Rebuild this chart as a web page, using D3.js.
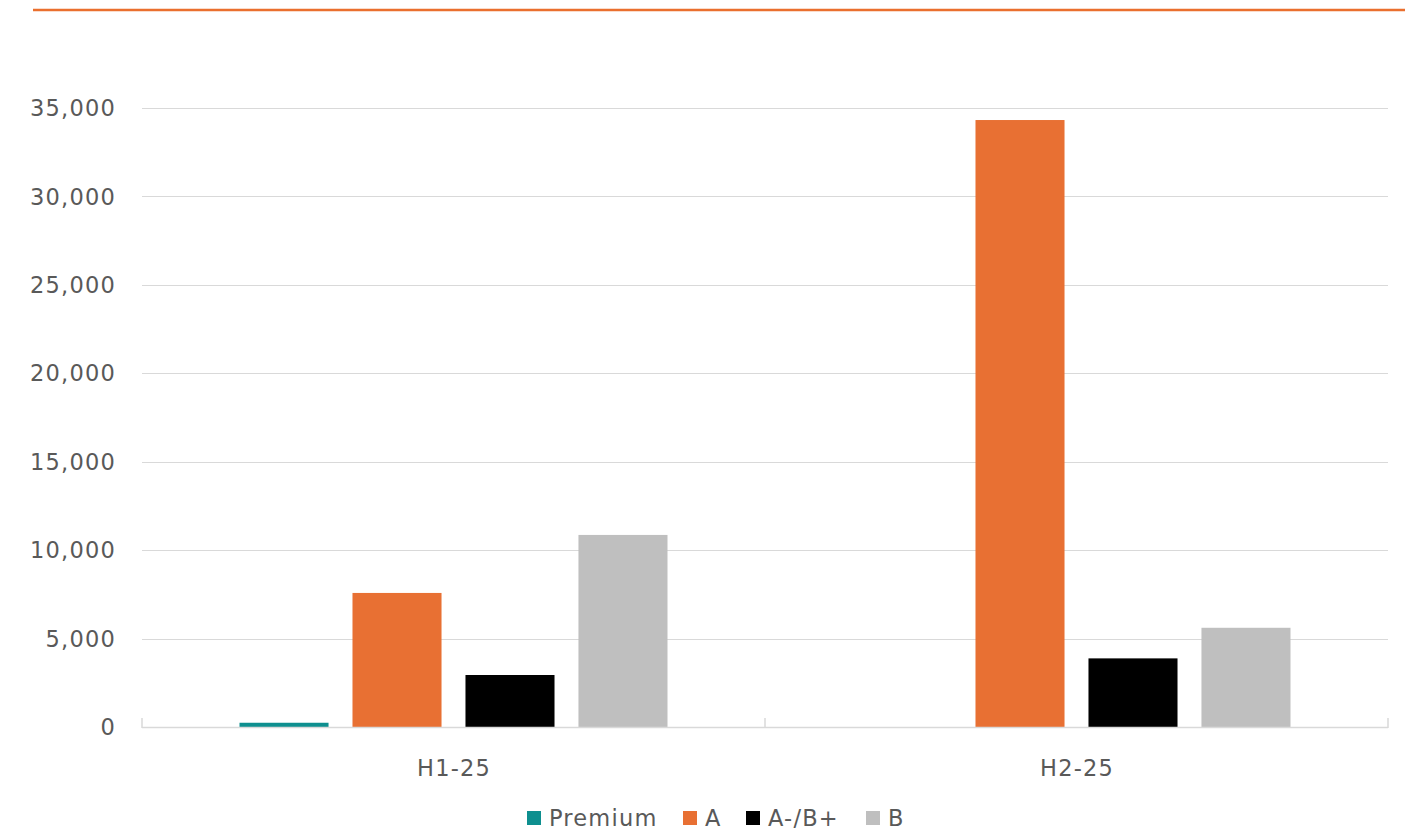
<!DOCTYPE html>
<html><head><meta charset="utf-8">
<script src="https://cdn.jsdelivr.net/npm/d3@7"></script>
<style>
body{margin:0;background:#fff;}
text{font-family:"DejaVu Sans",sans-serif;fill:#595959;letter-spacing:1.2px;}
</style></head>
<body><svg id="c" width="1405" height="830"></svg>
<script>
const categories = ["H1-25","H2-25"];
const seriesNames = ["Premium","A","A-/B+","B"];
const premium = [240, 0];
const gradeA = [7580, 34320];
const gradeAB = [2940, 3880];
const gradeB = [10860, 5610];
const yTicks = [0,5000,10000,15000,20000,25000,30000,35000];
const colors = ["#0e8f8f","#e87033","#000000","#bfbfbf"];

const seriesValues = [premium, gradeA, gradeAB, gradeB];
const svg = d3.select("#c");
const plotLeft = 142, plotRight = 1388, plotTop = 108, plotBottom = 727;
const fs = 22.5;

svg.append("line").attr("x1",33).attr("x2",1405).attr("y1",10).attr("y2",10)
  .attr("stroke","#ea6f2e").attr("stroke-width",2.5);

const y = d3.scaleLinear().domain([0,35000]).range([plotBottom, plotTop]);
const x0 = d3.scaleBand().domain(categories).range([plotLeft,plotRight]).paddingInner(0).paddingOuter(0);
const x1 = d3.scaleBand().domain(seriesNames).range([97.5, x0.bandwidth()-97.5]).paddingInner(0.212).paddingOuter(0);

// grid
svg.append("g").selectAll("line").data(yTicks.filter(d=>d>0)).join("line")
  .attr("x1",plotLeft).attr("x2",plotRight).attr("y1",d=>Math.round(y(d))+0.5).attr("y2",d=>Math.round(y(d))+0.5)
  .attr("stroke","#d9d9d9").attr("stroke-width",1.2);

// y labels
svg.append("g").selectAll("text").data(yTicks).join("text")
  .attr("x",116).attr("y",d=>y(d)).attr("dy","0.36em").attr("text-anchor","end")
  .attr("font-size",fs).text(d=>d3.format(",")(d));

// bars
const data = [];
categories.forEach((c,ci)=>seriesNames.forEach((s,si)=>data.push({c,s,v:seriesValues[si][ci],col:colors[si]})));
svg.append("g").selectAll("rect").data(data.filter(d=>d.v>0)).join("rect")
  .attr("x",d=>x0(d.c)+x1(d.s)).attr("width",x1.bandwidth())
  .attr("y",d=>y(d.v)).attr("height",d=>plotBottom-y(d.v)).attr("fill",d=>d.col);

// baseline + ticks
svg.append("line").attr("x1",plotLeft).attr("x2",plotRight).attr("y1",plotBottom+0.5).attr("y2",plotBottom+0.5)
  .attr("stroke","#d9d9d9").attr("stroke-width",1.5);
const tickXs = [plotLeft, x0(categories[1]), plotRight];
svg.append("g").selectAll("line").data(tickXs).join("line")
  .attr("x1",d=>d).attr("x2",d=>d).attr("y1",plotBottom-9).attr("y2",plotBottom+1)
  .attr("stroke","#d9d9d9").attr("stroke-width",1.5);

// x labels
svg.append("g").selectAll("text").data(categories).join("text")
  .attr("x",d=>x0(d)+x0.bandwidth()/2+0.6).attr("y",768).attr("dy","0.36em").attr("text-anchor","middle")
  .attr("font-size",fs).text(d=>d);

// legend
const legX = [527,683,746,866];
const lg = svg.append("g");
seriesNames.forEach((s,i)=>{
  lg.append("rect").attr("x",legX[i]).attr("y",811).attr("width",14).attr("height",14).attr("fill",colors[i]);
  lg.append("text").attr("x",legX[i]+22).attr("y",818).attr("dy","0.36em").attr("font-size",fs).text(s);
});
</script></body></html>
